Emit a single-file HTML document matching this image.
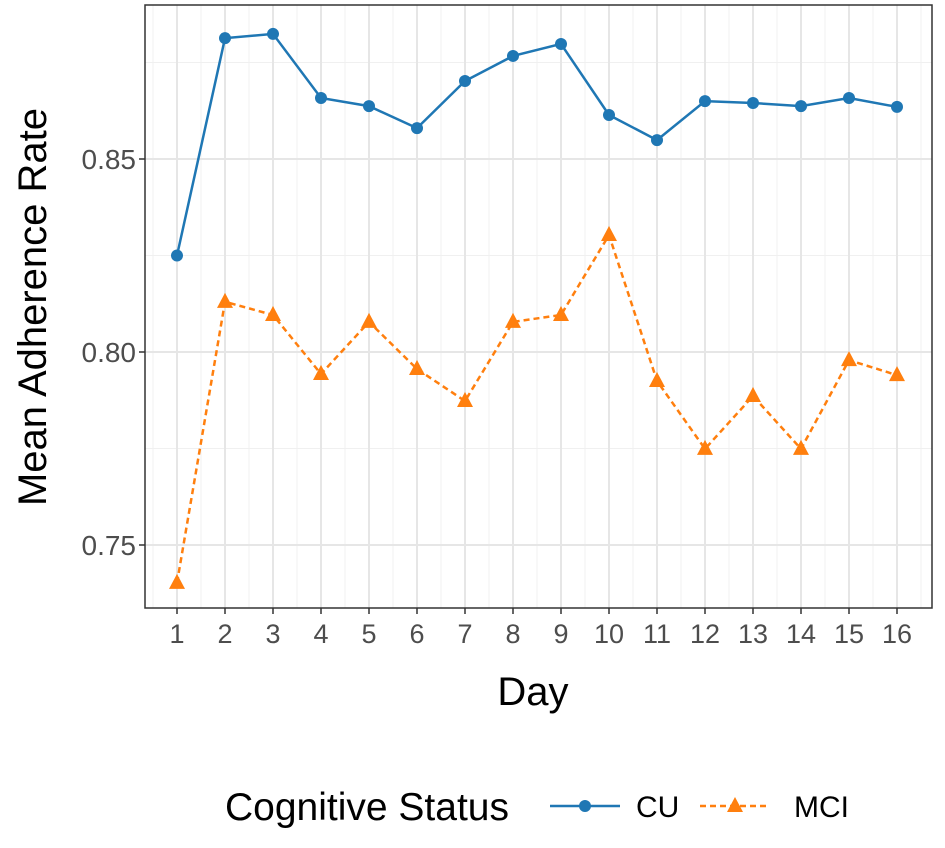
<!DOCTYPE html>
<html><head><meta charset="utf-8"><style>
body{margin:0;background:#fff;font-family:"Liberation Sans",Arial,sans-serif}
</style></head><body>
<svg id="chart" width="945" height="843" xmlns="http://www.w3.org/2000/svg">
<g id="grid"></g><g id="series"></g><g id="axes"></g>
</svg>
<script>
const days=[1,2,3,4,5,6,7,8,9,10,11,12,13,14,15,16];
const cuValues=[0.825,0.8813,0.8824,0.8658,0.8637,0.858,0.8702,0.8767,0.8798,0.8614,0.8549,0.865,0.8645,0.8637,0.8658,0.8635];
const mciValues=[0.7402,0.8130,0.8096,0.7943,0.8078,0.7956,0.7873,0.8078,0.8096,0.8303,0.7925,0.7749,0.7886,0.7749,0.7979,0.7940];
const yTicks=[0.75,0.80,0.85];
const yTickLabels=["0.75","0.80","0.85"];
const yMinor=[0.775,0.825,0.875];
const NS="http://www.w3.org/2000/svg";
const L=145,R=932,T=5,B=608;
const x=d=>177+(d-1)*48;
const y=v=>352-(v-0.80)*3860;
function mk(tag,attrs,parent,text){const e=document.createElementNS(NS,tag);for(const k in attrs)e.setAttribute(k,attrs[k]);if(text!==undefined)e.textContent=text;parent.appendChild(e);return e;}
const grid=document.getElementById('grid'),ser=document.getElementById('series'),ax=document.getElementById('axes');
mk('rect',{x:L,y:T,width:R-L,height:B-T,fill:'#fff'},grid);
yMinor.forEach(v=>{const l=mk('line',{x1:L,x2:R,y1:y(v),y2:y(v),stroke:'#f0f0f0','stroke-width':1},grid);

});
days.forEach(d=>{const l=mk('line',{x1:x(d)+24,x2:x(d)+24,y1:T,y2:B,stroke:'#f0f0f0','stroke-width':1},grid);

});
mk('line',{x1:x(1)-24,x2:x(1)-24,y1:T,y2:B,stroke:'#f0f0f0'},grid);
yTicks.forEach((v,i)=>{const l=mk('line',{x1:L,x2:R,y1:y(v),y2:y(v),stroke:'#e6e6e6','stroke-width':2},grid);


mk('line',{x1:L-6,x2:L,y1:y(v),y2:y(v),stroke:'#333','stroke-width':1.5},ax);
const t=mk('text',{x:L-9,y:y(v)+10,'text-anchor':'end','font-size':28,fill:'#4d4d4d'},ax,yTickLabels[i]);

});
days.forEach(d=>{const l=mk('line',{x1:x(d),x2:x(d),y1:T,y2:B,stroke:'#e6e6e6','stroke-width':2},grid);


mk('line',{x1:x(d),x2:x(d),y1:B,y2:B+6,stroke:'#333','stroke-width':1.5},ax);
const t=mk('text',{x:x(d),y:B+35,'text-anchor':'middle','font-size':27,fill:'#4d4d4d'},ax,String(d));

});
mk('rect',{x:L,y:T,width:R-L,height:B-T,fill:'none',stroke:'#333','stroke-width':1.5},ax);
const BLUE='#1f77b4',ORANGE='#ff7f0e';
const cuLine=mk('polyline',{points:days.map((d,i)=>x(d)+','+y(cuValues[i])).join(' '),fill:'none',stroke:BLUE,'stroke-width':2.5},ser);


const mciLine=mk('polyline',{points:days.map((d,i)=>x(d)+','+y(mciValues[i])).join(' '),fill:'none',stroke:ORANGE,'stroke-width':2.5,'stroke-dasharray':'6,4'},ser);


days.forEach((d,i)=>{const c=mk('circle',{cx:x(d),cy:y(cuValues[i]),r:6,fill:BLUE},ser);


const px=x(d),py=y(mciValues[i]);
const p=mk('polygon',{points:`${px},${py-9} ${px-8},${py+6} ${px+8},${py+6}`,fill:ORANGE},ser);

});
</script>
<svg style="position:absolute;left:0;top:0" width="945" height="843" xmlns="http://www.w3.org/2000/svg">
<text x="533" y="705" text-anchor="middle" font-size="40" fill="#000">Day</text>
<text transform="translate(46,307) rotate(-90)" text-anchor="middle" font-size="40" fill="#000">Mean Adherence Rate</text>
<g>
<text x="225" y="820" font-size="39" fill="#000">Cognitive Status</text>
<g>
<line x1="550" x2="620" y1="806" y2="806" stroke="#1f77b4" stroke-width="2.5"/><circle cx="585" cy="806" r="6" fill="#1f77b4"/>
<text x="636" y="817" font-size="30" fill="#000">CU</text></g>
<g>
<line x1="700" x2="770" y1="806" y2="806" stroke="#ff7f0e" stroke-width="2.5" stroke-dasharray="6,4"/><polygon points="735,797 727,812 743,812" fill="#ff7f0e"/>
<text x="794" y="817" font-size="30" fill="#000">MCI</text></g>
</g>
</svg>
</body></html>
